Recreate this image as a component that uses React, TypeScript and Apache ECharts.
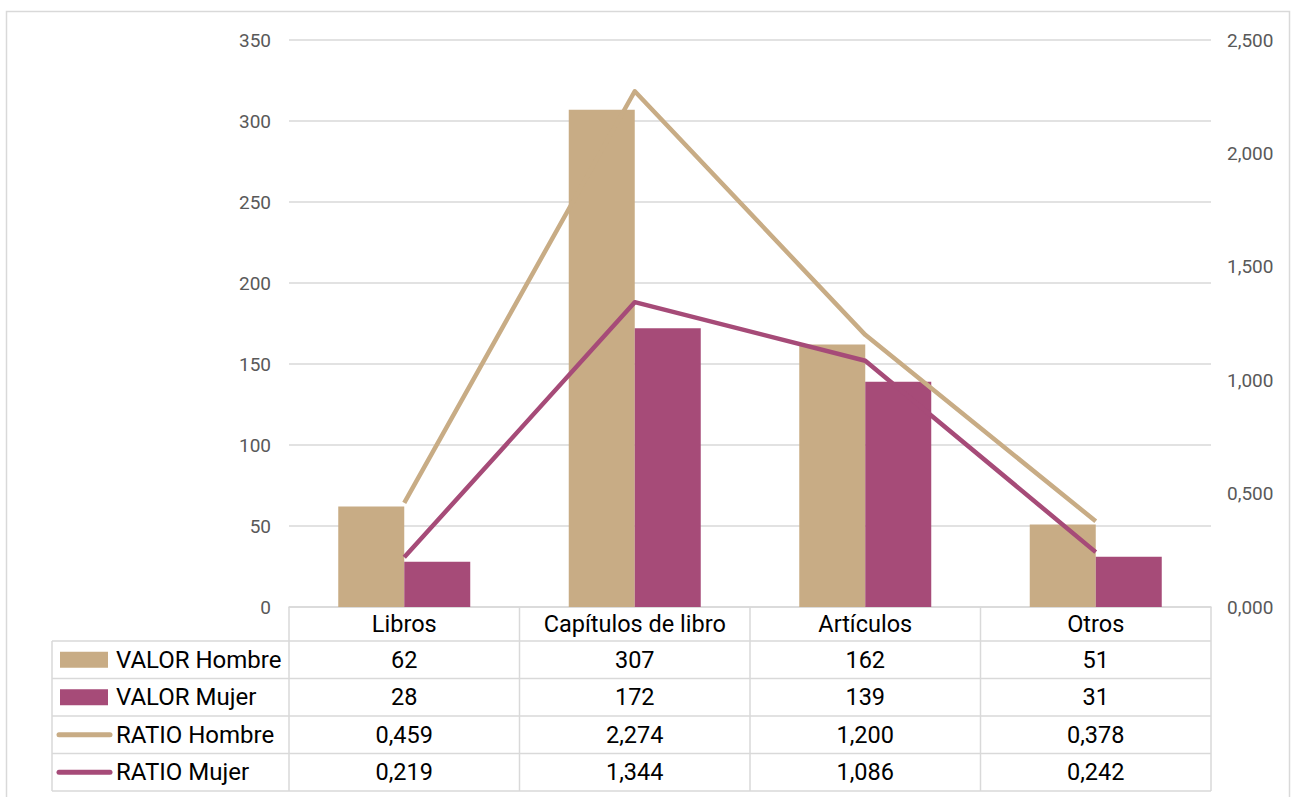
import React, { useEffect, useRef } from "react";
import * as echarts from "echarts";

const categories = ["Libros", "Capítulos de libro", "Artículos", "Otros"];
const valorHombre = [62, 307, 162, 51];
const valorMujer = [28, 172, 139, 31];
const ratioHombre = [0.459, 2.274, 1.2, 0.378];
const ratioMujer = [0.219, 1.344, 1.086, 0.242];
const seriesNames = ["VALOR Hombre", "VALOR Mujer", "RATIO Hombre", "RATIO Mujer"];

const TAN = "#C8AC85";
const PURPLE = "#A64B78";
const GRID = "#D9D9D9";
const FONT = "Roboto";
const TABLE_FS = 23.5;
const LEGEND_FS = 24;
const AXIS_FS = 19;

const W = 1292;
const H = 797;
const GL = 289;
const GR = 1211;
const GT = 40;
const GB = 607;
const TABLE_L = 52;
const HEADER_B = 641;
const ROW_H = 37.5;

const fmtRatio = (v: number) => v.toFixed(3).replace(".", ",");

export default function App() {
  const ref = useRef<HTMLDivElement>(null);
  useEffect(() => {
    if (!ref.current) return;
    const chart = echarts.init(ref.current, null, { renderer: "svg" });
    const colW = (GR - GL) / categories.length;
    const rows = [
      { name: seriesNames[0], kind: "bar", color: TAN, values: valorHombre.map(String) },
      { name: seriesNames[1], kind: "bar", color: PURPLE, values: valorMujer.map(String) },
      { name: seriesNames[2], kind: "line", color: TAN, values: ratioHombre.map(fmtRatio) },
      { name: seriesNames[3], kind: "line", color: PURPLE, values: ratioMujer.map(fmtRatio) },
    ];
    const graphics: any[] = [];
    graphics.push({
      type: "rect",
      shape: { x: 6.5, y: 11.5, width: 1283, height: 795 },
      style: { fill: "none", stroke: GRID, lineWidth: 1.5 },
      silent: true,
    });
    const hLine = (y: number, x1: number, x2: number) =>
      graphics.push({
        type: "line",
        shape: { x1, y1: y, x2, y2: y },
        style: { stroke: GRID, lineWidth: 1.5 },
        silent: true,
      });
    const vLine = (x: number, y1: number, y2: number) =>
      graphics.push({
        type: "line",
        shape: { x1: x, y1, x2: x, y2 },
        style: { stroke: GRID, lineWidth: 1.5 },
        silent: true,
      });
    const tableBottom = HEADER_B + ROW_H * rows.length;
    for (let i = 0; i <= rows.length; i++) hLine(HEADER_B + i * ROW_H, TABLE_L, GR);
    vLine(TABLE_L, HEADER_B, tableBottom);
    for (let c = 0; c <= categories.length; c++) vLine(GL + c * colW, GB, tableBottom);

    rows.forEach((r, i) => {
      const cy = HEADER_B + i * ROW_H + ROW_H / 2;
      if (r.kind === "bar") {
        graphics.push({
          type: "rect",
          shape: { x: 60, y: cy - 8, width: 48, height: 16 },
          style: { fill: r.color },
          silent: true,
        });
      } else {
        graphics.push({
          type: "line",
          shape: { x1: 59, y1: cy, x2: 110, y2: cy },
          style: { stroke: r.color, lineWidth: 5, lineCap: "round" },
          silent: true,
        });
      }
      graphics.push({
        type: "text",
        x: 116,
        y: cy,
        style: {
          text: r.name,
          fill: "#000",
          font: `${LEGEND_FS}px ${FONT}`,
          textAlign: "left",
          textVerticalAlign: "middle",
        },
        silent: true,
      });
      r.values.forEach((v, c) => {
        graphics.push({
          type: "text",
          x: GL + c * colW + colW / 2,
          y: cy,
          style: {
            text: v,
            fill: "#000",
            font: `${TABLE_FS}px ${FONT}`,
            textAlign: "center",
            textVerticalAlign: "middle",
          },
          silent: true,
        });
      });
    });

    chart.setOption({
      animation: false,
      backgroundColor: "#fff",
      grid: { left: GL, right: W - GR, top: GT, bottom: H - GB },
      xAxis: {
        type: "category",
        data: categories,
        axisLine: { show: true, lineStyle: { color: GRID, width: 1.5 } },
        axisTick: { show: false },
        axisLabel: { color: "#000", fontSize: TABLE_FS, fontFamily: FONT, margin: 5, interval: 0 },
      },
      yAxis: [
        {
          type: "value",
          min: 0,
          max: 350,
          interval: 50,
          axisLine: { show: false },
          axisTick: { show: false },
          axisLabel: { color: "#595959", fontSize: AXIS_FS, fontFamily: FONT, margin: 18 },
          splitLine: { lineStyle: { color: GRID, width: 1.5 } },
        },
        {
          type: "value",
          min: 0,
          max: 2.5,
          interval: 0.5,
          axisLine: { show: false },
          axisTick: { show: false },
          axisLabel: {
            color: "#595959",
            fontSize: AXIS_FS,
            fontFamily: FONT,
            margin: 16,
            formatter: (v: number) => fmtRatio(v),
          },
          splitLine: { show: false },
        },
      ],
      series: [
        {
          name: seriesNames[0],
          type: "bar",
          data: valorHombre,
          barWidth: 66,
          barGap: "0%",
          itemStyle: { color: TAN },
        },
        {
          name: seriesNames[1],
          type: "bar",
          data: valorMujer,
          barWidth: 66,
          barGap: "0%",
          itemStyle: { color: PURPLE },
        },
        {
          name: seriesNames[2],
          type: "line",
          yAxisIndex: 1,
          data: ratioHombre,
          symbol: "none",
          lineStyle: { color: TAN, width: 4.5, join: "round" },
          itemStyle: { color: TAN },
          z: 3,
        },
        {
          name: seriesNames[3],
          type: "line",
          yAxisIndex: 1,
          data: ratioMujer,
          symbol: "none",
          lineStyle: { color: PURPLE, width: 4.5, join: "round" },
          itemStyle: { color: PURPLE },
          z: 3,
        },
      ],
      graphic: graphics,
    });
    return () => chart.dispose();
  }, []);
  return (
    <div
      ref={ref}
      style={{ position: "absolute", left: 0, top: 0, width: W, height: H }}
    />
  );
}
